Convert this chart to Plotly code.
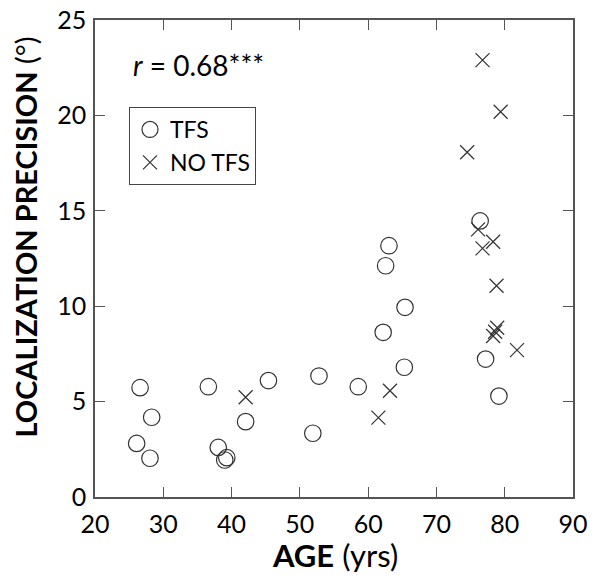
import plotly.graph_objects as go

# TFS (circles)
tfs_age = [26.6, 28.3, 26.1, 28.05, 36.6, 38.05, 39.0, 39.3, 42.06, 45.4, 51.9, 52.8,
           58.55, 62.2, 62.56, 63.05, 65.4, 65.3, 76.4, 77.2, 79.15]
tfs_prec = [5.73, 4.18, 2.81, 2.03, 5.78, 2.60, 1.94, 2.06, 3.95, 6.10, 3.34, 6.34,
            5.78, 8.63, 12.12, 13.17, 9.94, 6.80, 14.47, 7.23, 5.29]

# NO TFS (crosses)
notfs_age = [42.06, 61.5, 63.2, 74.5, 76.75, 79.4, 76.1, 78.3, 76.75, 78.8, 78.9, 78.6, 78.3, 81.8]
notfs_prec = [5.23, 4.16, 5.57, 18.07, 22.9, 20.19, 14.03, 13.38, 13.03, 11.07, 8.87, 8.66, 8.44, 7.70]

x_ticks = [20, 30, 40, 50, 60, 70, 80, 90]
y_ticks = [0, 5, 10, 15, 20, 25]

FONT = "Lato"
mcol = "#333333"
W, H = 600, 587
ML, MR, MT, MB = 95, 27, 20, 90

fig = go.Figure()
fig.add_trace(go.Scatter(
    x=tfs_age, y=tfs_prec, mode="markers", name="TFS",
    marker=dict(symbol="circle-open", size=16.5, color=mcol, line=dict(width=1.2, color=mcol)),
))
fig.add_trace(go.Scatter(
    x=notfs_age, y=notfs_prec, mode="markers", name="NO TFS",
    marker=dict(symbol="x-thin-open", size=14, color=mcol, line=dict(width=1.2, color=mcol)),
))

axis_common = dict(
    showline=True, linecolor="#555555", linewidth=1.5, mirror="ticks",
    ticks="inside", ticklen=10, tickwidth=1.2, tickcolor="#555555",
    showgrid=False, zeroline=False, automargin=False,
    tickfont=dict(family=FONT, size=25, color="black"),
)

fig.update_xaxes(range=[20, 90], tickvals=x_ticks, ticktext=[str(v) for v in x_ticks],
                 ticklabelstandoff=4, **axis_common)
fig.update_yaxes(range=[0, 25], tickvals=y_ticks, ticktext=[str(v) for v in y_ticks],
                 ticklabelstandoff=2, **axis_common)

ph = H - MT - MB
pw = W - ML - MR
# y-axis title (as annotation for exact placement)
fig.add_annotation(x=(25 - ML) / pw, y=(H - MB - 237.5) / ph, xref="paper", yref="paper",
                   xanchor="center", yanchor="middle", textangle=-90, showarrow=False,
                   text="<b>LOCALIZATION PRECISION</b> (°)",
                   font=dict(family=FONT, size=29, color="black"))
# x-axis title
fig.add_annotation(x=(335 - ML) / pw, y=(H - MB - 555) / ph, xref="paper", yref="paper",
                   xanchor="center", yanchor="middle", showarrow=False,
                   text="<b>AGE</b> (yrs)",
                   font=dict(family=FONT, size=31, color="black"))

fig.add_annotation(x=(131 - ML) / pw, y=(H - MB - 65) / ph, xref="paper", yref="paper",
                   xanchor="left", yanchor="middle",
                   text="<i>r</i> = 0.68***",
                   showarrow=False,
                   font=dict(family=FONT, size=28, color="black"))

fig.update_layout(
    width=W, height=H,
    margin=dict(l=ML, r=MR, t=MT, b=MB),
    paper_bgcolor="white", plot_bgcolor="white",
    showlegend=True,
    legend=dict(x=(129 - ML) / pw, y=(H - MB - 107) / ph, xanchor="left", yanchor="top",
                bordercolor="#444444", borderwidth=1, bgcolor="white",
                font=dict(family=FONT, size=23, color="black"),
                itemwidth=30, tracegroupgap=0),
    font=dict(family=FONT),
)

fig.write_html("out.html", config={"displayModeBar": False},
               post_script="document.body.style.margin='0px';")
